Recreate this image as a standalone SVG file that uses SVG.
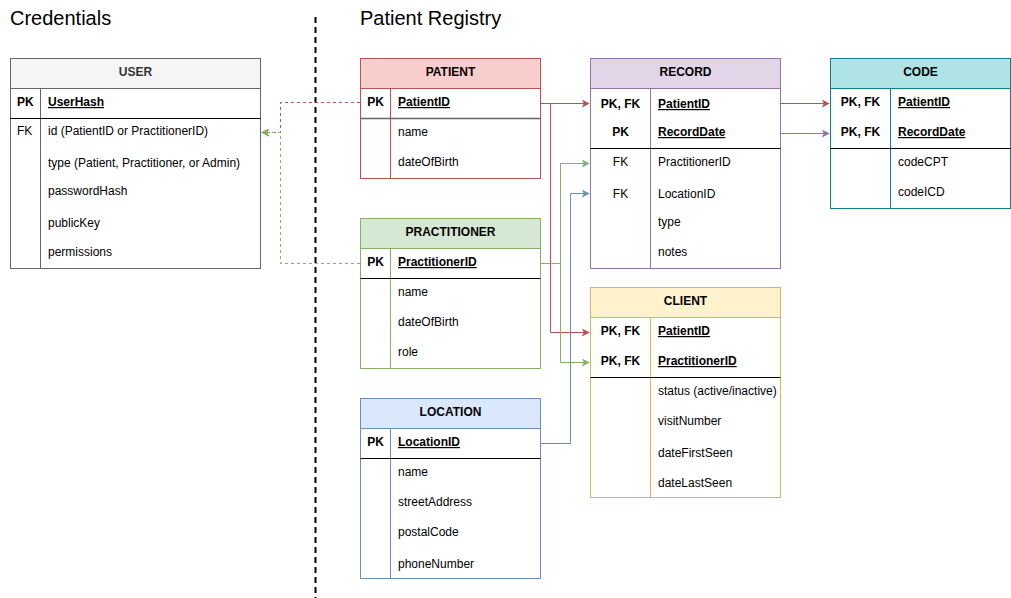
<svg xmlns="http://www.w3.org/2000/svg" width="1011" height="598" viewBox="0 0 1011 598">
<style>
text{font-family:"Liberation Sans",Arial,sans-serif;font-size:12px;fill:#000}
.title{font-size:20px}
.hdr{font-weight:bold;text-anchor:middle}
.key{font-weight:bold}
.pkname{font-weight:bold;text-decoration:underline}
.mid{text-anchor:middle}
.conn{fill:none;stroke-width:1}
.div{stroke:#000;stroke-width:1}
</style>
<defs>
<marker id="aR" viewBox="0 0 10 10" refX="9" refY="5" markerWidth="8" markerHeight="8" orient="auto" markerUnits="userSpaceOnUse"><path d="M0,0 L10,5 L0,10 L2.5,5 Z" fill="#b85450"/></marker>
<marker id="aG" viewBox="0 0 10 10" refX="9" refY="5" markerWidth="8" markerHeight="8" orient="auto" markerUnits="userSpaceOnUse"><path d="M0,0 L10,5 L0,10 L2.5,5 Z" fill="#82b366"/></marker>
<marker id="aB" viewBox="0 0 10 10" refX="9" refY="5" markerWidth="8" markerHeight="8" orient="auto" markerUnits="userSpaceOnUse"><path d="M0,0 L10,5 L0,10 L2.5,5 Z" fill="#6c8ebf"/></marker>
<marker id="aP" viewBox="0 0 10 10" refX="9" refY="5" markerWidth="8" markerHeight="8" orient="auto" markerUnits="userSpaceOnUse"><path d="M0,0 L10,5 L0,10 L2.5,5 Z" fill="#9673a6"/></marker>
</defs>
<rect width="1011" height="598" fill="#fff"/>
<text class="title" x="10" y="25">Credentials</text>
<text class="title" x="360" y="25">Patient Registry</text>
<line x1="315.5" y1="17" x2="315.5" y2="598" stroke="#000" stroke-width="2" stroke-dasharray="6,4"/>

<g id="user">
<rect x="10.5" y="58.5" width="250" height="210" fill="#fff" stroke="#666"/>
<rect x="10.5" y="58.5" width="250" height="30" fill="#f5f5f5" stroke="#666"/>
<line x1="40.5" y1="88.5" x2="40.5" y2="268.5" stroke="#666"/>
<line class="div" x1="10.5" y1="118.5" x2="260.5" y2="118.5"/>
<text class="hdr" x="135.5" y="76" fill="#333" style="fill:#333">USER</text>
<text class="key" x="17" y="106">PK</text>
<text class="pkname" x="48" y="106">UserHash</text>
<text x="17" y="135">FK</text>
<text x="48" y="135">id (PatientID or PractitionerID)</text>
<text x="48" y="167">type (Patient, Practitioner, or Admin)</text>
<text x="48" y="195">passwordHash</text>
<text x="48" y="227">publicKey</text>
<text x="48" y="256">permissions</text>
</g>

<g id="patient">
<rect x="360.5" y="58.5" width="180" height="120" fill="#fff" stroke="#b85450"/>
<rect x="360.5" y="58.5" width="180" height="30" fill="#f8cecc" stroke="#b85450"/>
<line x1="390.5" y1="88.5" x2="390.5" y2="178.5" stroke="#b85450"/>
<line x1="360.5" y1="118.5" x2="540.5" y2="118.5" stroke="#666" stroke-width="1.3"/>
<text class="hdr" x="450.5" y="76">PATIENT</text>
<text class="key mid" x="375.5" y="106">PK</text>
<text class="pkname" x="398" y="106">PatientID</text>
<text x="398" y="136">name</text>
<text x="398" y="166">dateOfBirth</text>
</g>

<g id="practitioner">
<rect x="360.5" y="218.5" width="180" height="150" fill="#fff" stroke="#82b366"/>
<rect x="360.5" y="218.5" width="180" height="30" fill="#d5e8d4" stroke="#82b366"/>
<line x1="390.5" y1="248.5" x2="390.5" y2="368.5" stroke="#82b366"/>
<line class="div" x1="360.5" y1="278.5" x2="540.5" y2="278.5"/>
<text class="hdr" x="450.5" y="236">PRACTITIONER</text>
<text class="key mid" x="375.5" y="266">PK</text>
<text class="pkname" x="398" y="266">PractitionerID</text>
<text x="398" y="296">name</text>
<text x="398" y="326">dateOfBirth</text>
<text x="398" y="356">role</text>
</g>

<g id="location">
<rect x="360.5" y="398.5" width="180" height="180" fill="#fff" stroke="#6c8ebf"/>
<rect x="360.5" y="398.5" width="180" height="30" fill="#dae8fc" stroke="#6c8ebf"/>
<line x1="390.5" y1="428.5" x2="390.5" y2="578.5" stroke="#6c8ebf"/>
<line class="div" x1="360.5" y1="458.5" x2="540.5" y2="458.5"/>
<text class="hdr" x="450.5" y="416">LOCATION</text>
<text class="key mid" x="375.5" y="446">PK</text>
<text class="pkname" x="398" y="446">LocationID</text>
<text x="398" y="476">name</text>
<text x="398" y="506">streetAddress</text>
<text x="398" y="536">postalCode</text>
<text x="398" y="568">phoneNumber</text>
</g>

<g id="record">
<rect x="590.5" y="58.5" width="190" height="210" fill="#fff" stroke="#9673a6"/>
<rect x="590.5" y="58.5" width="190" height="30" fill="#e1d5e7" stroke="#9673a6"/>
<line x1="650.5" y1="88.5" x2="650.5" y2="268.5" stroke="#9673a6"/>
<line class="div" x1="590.5" y1="148.5" x2="780.5" y2="148.5"/>
<text class="hdr" x="685.5" y="76">RECORD</text>
<text class="key mid" x="620.5" y="108">PK, FK</text>
<text class="pkname" x="658" y="108">PatientID</text>
<text class="key mid" x="620.5" y="136">PK</text>
<text class="pkname" x="658" y="136">RecordDate</text>
<text class="mid" x="620.5" y="166">FK</text>
<text x="658" y="166">PractitionerID</text>
<text class="mid" x="620.5" y="198">FK</text>
<text x="658" y="198">LocationID</text>
<text x="658" y="226">type</text>
<text x="658" y="256">notes</text>
</g>

<g id="code">
<rect x="830.5" y="58.5" width="180" height="150" fill="#fff" stroke="#0e8088"/>
<rect x="830.5" y="58.5" width="180" height="30" fill="#b0e3e6" stroke="#0e8088"/>
<line x1="890.5" y1="88.5" x2="890.5" y2="208.5" stroke="#0e8088"/>
<line class="div" x1="830.5" y1="148.5" x2="1010.5" y2="148.5"/>
<text class="hdr" x="920.5" y="76">CODE</text>
<text class="key mid" x="860.5" y="106">PK, FK</text>
<text class="pkname" x="898" y="106">PatientID</text>
<text class="key mid" x="860.5" y="136">PK, FK</text>
<text class="pkname" x="898" y="136">RecordDate</text>
<text x="898" y="166">codeCPT</text>
<text x="898" y="196">codeICD</text>
</g>

<g id="client">
<rect x="590.5" y="287.5" width="190" height="210" fill="#fff" stroke="#d6b656"/>
<rect x="590.5" y="287.5" width="190" height="30" fill="#fff2cc" stroke="#d6b656"/>
<line x1="650.5" y1="317.5" x2="650.5" y2="497.5" stroke="#d6b656"/>
<line class="div" x1="590.5" y1="377.5" x2="780.5" y2="377.5"/>
<text class="hdr" x="685.5" y="305">CLIENT</text>
<text class="key mid" x="620.5" y="335">PK, FK</text>
<text class="pkname" x="658" y="335">PatientID</text>
<text class="key mid" x="620.5" y="365">PK, FK</text>
<text class="pkname" x="658" y="365">PractitionerID</text>
<text x="658" y="395">status (active/inactive)</text>
<text x="658" y="425">visitNumber</text>
<text x="658" y="457">dateFirstSeen</text>
<text x="658" y="487">dateLastSeen</text>
</g>

<g id="connectors">
<path class="conn" d="M360,102.5 H280.5 V132.5 H262" stroke="#b85450" stroke-dasharray="3,3" marker-end="url(#aR)"/>
<path class="conn" d="M360,263.5 H280.5 V132.5 H262" stroke="#82b366" stroke-dasharray="3,3" marker-end="url(#aG)"/>
<path class="conn" d="M540,103.5 H589" stroke="#b85450" marker-end="url(#aR)"/>
<path class="conn" d="M550.5,103.5 V332.5 H589" stroke="#b85450" marker-end="url(#aR)"/>
<path class="conn" d="M540,263.5 H560.5 V163.5 H589" stroke="#82b366" marker-end="url(#aG)"/>
<path class="conn" d="M560.5,263.5 V362.5 H589" stroke="#82b366" marker-end="url(#aG)"/>
<path class="conn" d="M540,443.5 H570.5 V193.5 H589" stroke="#6c8ebf" marker-end="url(#aB)"/>
<path class="conn" d="M780,103.5 H829" stroke="#b85450" marker-end="url(#aR)"/>
<path class="conn" d="M780,133.5 H829" stroke="#9673a6" marker-end="url(#aP)"/>
</g>
</svg>
